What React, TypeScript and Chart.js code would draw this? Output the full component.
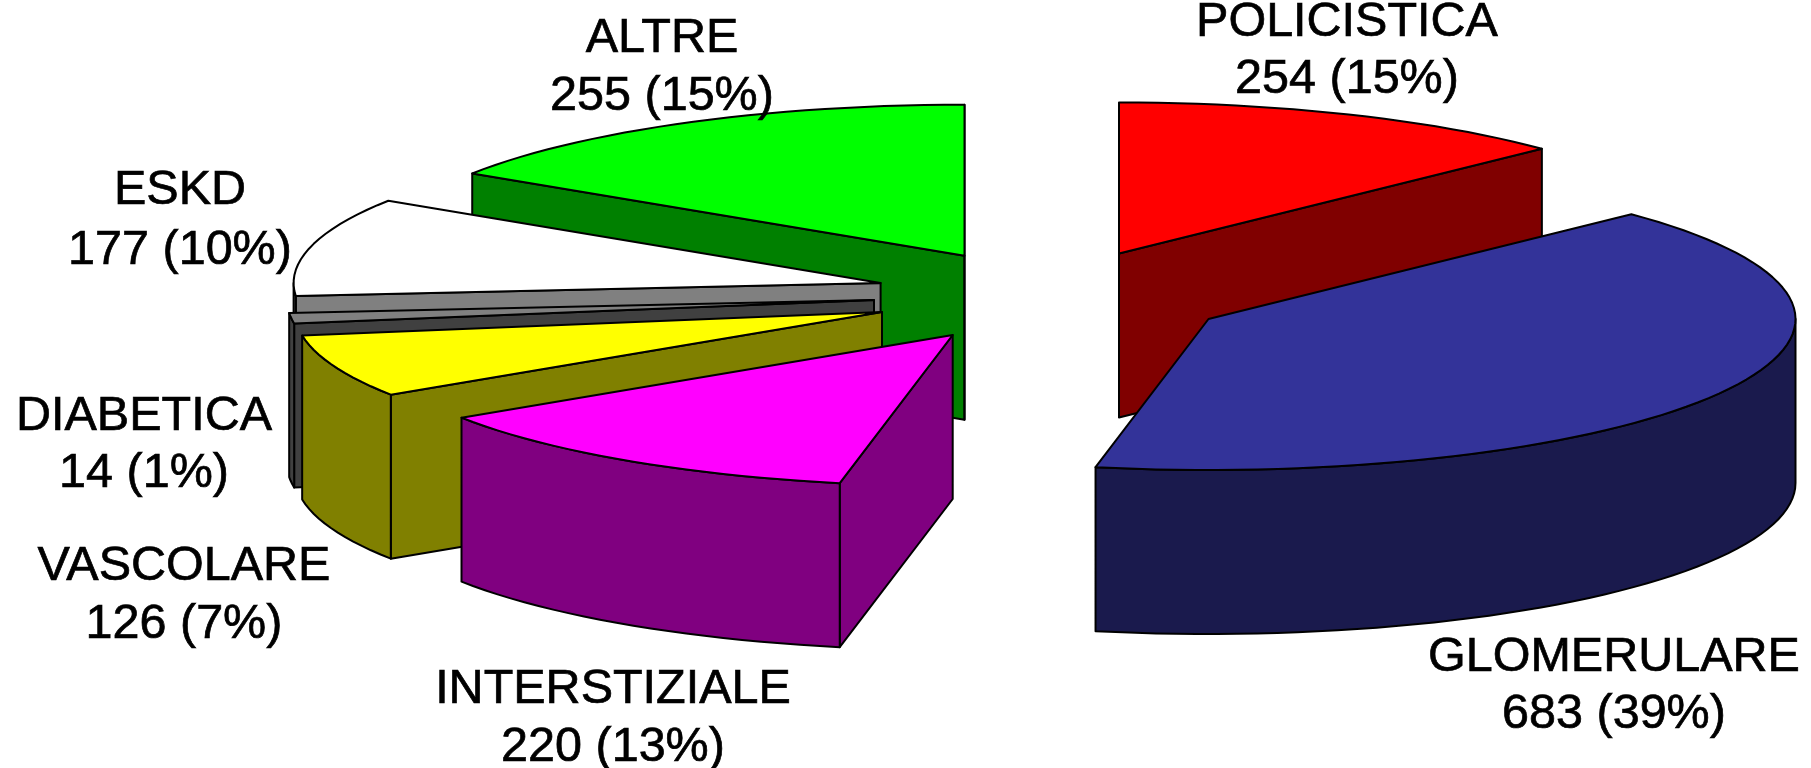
import React, { useEffect, useRef } from "react";
import { Chart, registerables } from "chart.js";

Chart.register(...registerables);

// ---- data (clockwise from 12 o'clock) ----
const categories = ["POLICISTICA", "GLOMERULARE", "INTERSTIZIALE", "VASCOLARE", "DIABETICA", "ESKD", "ALTRE"];
const patients = [254, 683, 220, 126, 14, 177, 255];
const percents = [15, 39, 13, 7, 1, 10, 15];
const faceColors = ["#ff0000", "#333399", "#ff00ff", "#ffff00", "#808080", "#ffffff", "#00ff00"];
const wallColors = ["#800000", "#1a1a4d", "#800080", "#808000", "#404040", "#808080", "#008000"];

// ---- exploded 3D layout (screen geometry, not data) ----
const sliceApexX = [1119, 1208.5, 952.7, 882, 874, 880.6, 964.5];
const sliceApexY = [253.5, 319, 335, 312, 300, 283, 255.7];
// The source's projection bends angles by a few degrees at each slice boundary.
const boundaryShift = [0, 6.8, 4.0, 4.1, 6.1, 5, 3.9, 0];
const paintOrder = [6, 5, 4, 3, 2, 0, 1];
const labelX = [1347, 1614, 613, 184, 144, 180, 662];
const labelY = [36, 671, 702.5, 580, 430, 204, 51.5];
const labelGap = [57, 57, 58, 58, 57, 60, 58];
const RX = 587;
const RY = 151;
const DEPTH = 164;
const FONT = '48.5px "Liberation Sans", Arial, sans-serif';

const rad = (d: number) => (d * Math.PI) / 180;

function traceArc(ctx: CanvasRenderingContext2D, ax: number, ay: number, from: number, to: number, dy: number, first: boolean) {
  const steps = Math.max(2, Math.ceil(Math.abs(to - from) / 2));
  for (let k = 0; k <= steps; k++) {
    const t = rad(from + ((to - from) * k) / steps);
    const x = ax + RX * Math.sin(t);
    const y = ay - RY * Math.cos(t) + dy;
    if (k === 0 && first) ctx.moveTo(x, y);
    else ctx.lineTo(x, y);
  }
}

function finish(ctx: CanvasRenderingContext2D, fill: string) {
  ctx.closePath();
  ctx.fillStyle = fill;
  ctx.fill();
  ctx.stroke();
}

function cutFace(ctx: CanvasRenderingContext2D, ax: number, ay: number, t: number, fill: string) {
  const x = ax + RX * Math.sin(rad(t));
  const y = ay - RY * Math.cos(rad(t));
  ctx.beginPath();
  ctx.moveTo(ax, ay);
  ctx.lineTo(x, y);
  ctx.lineTo(x, y + DEPTH);
  ctx.lineTo(ax, ay + DEPTH);
  finish(ctx, fill);
}

const pie3d = {
  id: "pie3d",
  beforeDatasetDraw(chart: any) {
    const ctx: CanvasRenderingContext2D = chart.ctx;
    const ds = chart.data.datasets[0];
    const arcs = chart.getDatasetMeta(0).data;
    ctx.save();
    ctx.strokeStyle = "#000000";
    ctx.lineWidth = 2;
    ctx.lineJoin = "round";
    for (const i of paintOrder) {
      const arc = arcs[i];
      const t0 = (arc.startAngle * 180) / Math.PI + 90 - boundaryShift[i];
      const t1 = (arc.endAngle * 180) / Math.PI + 90 - boundaryShift[i + 1];
      const ax = sliceApexX[i];
      const ay = sliceApexY[i];
      const wall = wallColors[i];
      // cut faces that turn toward the viewer
      if (Math.sin(rad(t0)) < 0) cutFace(ctx, ax, ay, t0, wall);
      if (Math.sin(rad(t1)) > 0) cutFace(ctx, ax, ay, t1, wall);
      // outer rim wall, front half only
      const a = Math.max(t0, 90);
      const b = Math.min(t1, 270);
      if (b > a) {
        ctx.beginPath();
        traceArc(ctx, ax, ay, a, b, 0, true);
        traceArc(ctx, ax, ay, b, a, DEPTH, false);
        finish(ctx, wall);
      }
      // top face
      ctx.beginPath();
      ctx.moveTo(ax, ay);
      traceArc(ctx, ax, ay, t0, t1, 0, false);
      finish(ctx, ds.backgroundColor[i]);
    }
    ctx.restore();
    return false; // the flat arcs are replaced by the projected ones
  },
  afterDraw(chart: any) {
    const ctx: CanvasRenderingContext2D = chart.ctx;
    const ds = chart.data.datasets[0];
    ctx.save();
    ctx.fillStyle = "#000000";
    ctx.strokeStyle = "#000000";
    ctx.lineWidth = 0.7;
    ctx.font = FONT;
    ctx.textAlign = "center";
    ctx.textBaseline = "alphabetic";
    chart.data.labels.forEach((name: string, i: number) => {
      const second = `${ds.data[i]} (${percents[i]}%)`;
      const y2 = labelY[i] + labelGap[i];
      ctx.fillText(name, labelX[i], labelY[i]);
      ctx.strokeText(name, labelX[i], labelY[i]);
      ctx.fillText(second, labelX[i], y2);
      ctx.strokeText(second, labelX[i], y2);
    });
    ctx.restore();
  },
};

export default function App() {
  const ref = useRef<HTMLCanvasElement | null>(null);
  useEffect(() => {
    if (!ref.current) return;
    const chart = new Chart(ref.current, {
      type: "pie",
      data: {
        labels: categories,
        datasets: [{ data: patients, backgroundColor: faceColors, borderColor: "#000000", borderWidth: 1 }],
      },
      options: {
        responsive: false,
        animation: false,
        rotation: 0,
        plugins: { legend: { display: false }, tooltip: { enabled: false } },
      },
      plugins: [pie3d],
    } as any);
    return () => chart.destroy();
  }, []);
  return (
    <div style={{ position: "fixed", left: 0, top: 0, width: 1811, height: 768, background: "#ffffff" }}>
      <canvas ref={ref} width={1811} height={768} style={{ display: "block" }} />
    </div>
  );
}
